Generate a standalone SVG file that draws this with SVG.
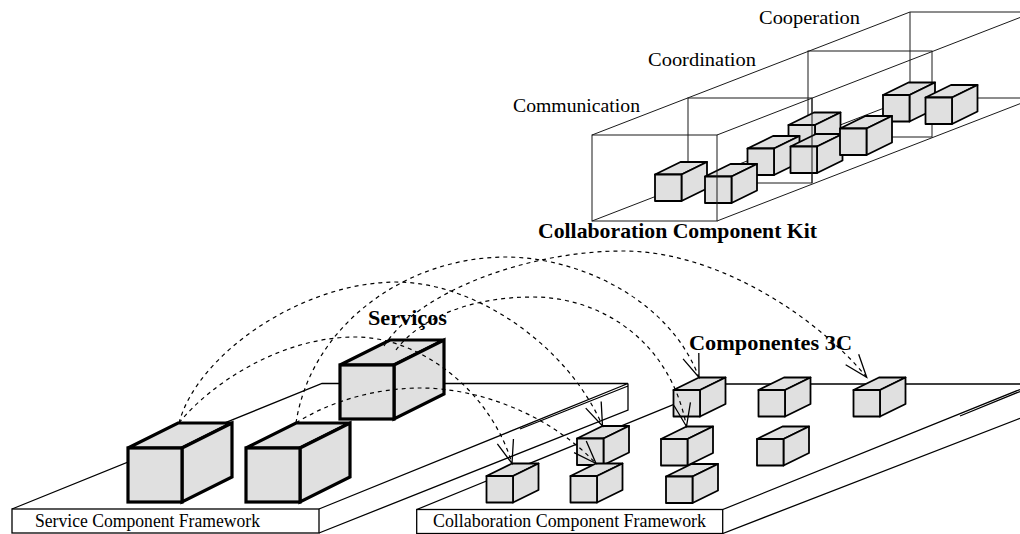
<svg xmlns="http://www.w3.org/2000/svg" xmlns:xlink="http://www.w3.org/1999/xlink" width="1020" height="534" viewBox="0 0 1020 534">
  <style>
    .wire{fill:none;stroke:#1a1a1a;stroke-width:1}
    .slab{fill:none;stroke:#000;stroke-width:1.3}
    .plate{fill:#fff;stroke:#000;stroke-width:1.3}
    .lbl{font-family:"Liberation Serif","Times New Roman",serif;fill:#000}
    .bold{font-weight:bold;font-size:21px}
    .kit{font-size:19px}
    .fw{font-size:18px}
    .link{fill:none;stroke:#000;stroke-width:1.2;stroke-dasharray:4 4;marker-end:url(#arrow)}
  </style>
  <defs>
    <marker id="arrow" markerUnits="userSpaceOnUse" viewBox="-26 -12 30 24" markerWidth="30" markerHeight="24" refX="0" refY="0" orient="auto" overflow="visible">
      <path d="M-23,-8.4 L0,0 L-23,8.4" fill="none" stroke="#000" stroke-width="1.3" stroke-dasharray="none"/>
    </marker>
    <!-- small component cube, origin = top-left of front face -->
    <g id="cube-s" fill="#e0e0e0" stroke="#000" stroke-width="1.8" stroke-linejoin="round">
      <path d="M0,0 L25.5,-12.5 L52,-12.5 L26.5,0 Z"/>
      <path d="M26.5,0 L52,-12.5 L52,14 L26.5,26.5 Z"/>
      <rect width="26.5" height="26.5"/>
    </g>
    <!-- large service cube -->
    <g id="cube-b" fill="#e0e0e0" stroke="#000" stroke-width="3.2" stroke-linejoin="miter">
      <path d="M0,0 L50,-25 L104,-25 L54,0 Z"/>
      <path d="M54,0 L104,-25 L104,29 L54,54 Z"/>
      <rect width="54" height="54"/>
    </g>
  </defs>

  <rect width="1020" height="534" fill="#fff"/>

  <!-- Collaboration Component Kit: long prism split in three layers -->
  <g id="kit">
    <g id="kit-frame" class="wire">
      <path d="M592,135 L910,12 M717,135 L1020,17.5 M592,221 L910,98 M717,221 L1020,103.7"/>
      <rect x="688" y="98" width="124" height="85"/>
      <rect x="808" y="51" width="124" height="86"/>
      <path d="M1020,12 L910,12 L910,98 L1020,98"/>
    </g>
    <g id="kit-k7"><use xlink:href="#cube-s" x="883" y="95"/></g>
    <g id="kit-k8"><use xlink:href="#cube-s" x="925.5" y="97.5"/></g>
    <g id="kit-k4"><use xlink:href="#cube-s" x="788.5" y="125"/></g>
    <g id="kit-k3"><use xlink:href="#cube-s" x="747.5" y="148.5"/></g>
    <g id="kit-k5"><use xlink:href="#cube-s" x="790.5" y="146.5"/></g>
    <g id="kit-k6"><use xlink:href="#cube-s" x="840" y="128.5"/></g>
    <g id="kit-k1"><use xlink:href="#cube-s" x="655" y="174.5"/></g>
    <g id="kit-k2"><use xlink:href="#cube-s" x="705" y="176.5"/></g>
    <g id="kit-front" class="wire">
      <rect x="592" y="135" width="125" height="86"/>
      <path d="M812,98 L812,183"/>
    </g>
    <text class="lbl kit" x="759" y="24" textLength="101" lengthAdjust="spacingAndGlyphs">Cooperation</text>
    <text class="lbl kit" x="648" y="66" textLength="108" lengthAdjust="spacingAndGlyphs">Coordination</text>
    <text class="lbl kit" x="513" y="112" textLength="127" lengthAdjust="spacingAndGlyphs">Communication</text>
    <text class="lbl bold" x="538" y="238" textLength="279" lengthAdjust="spacingAndGlyphs">Collaboration Component Kit</text>
  </g>

  <!-- Service Component Framework platform -->
  <g id="service-framework">
    <path class="slab" d="M12,509 L322,383.5 L628,383.5 L319,509 M628,383.5 L628,410 L319,533 M628,386 L520,429"/>
    <rect class="plate" x="12" y="509" width="307" height="24"/>
    <text class="lbl fw" x="35" y="527" textLength="225" lengthAdjust="spacingAndGlyphs">Service Component Framework</text>
  </g>

  <!-- Collaboration Component Framework platform -->
  <g id="collab-framework">
    <path class="slab" d="M416.7,509.5 L724,384 L1020,384 M722.7,509.5 L1020,389.5 M722.7,533.5 L1020,418.3 M1020,391.5 L960,416"/>
    <rect class="plate" x="416.7" y="509.5" width="306" height="24"/>
    <text class="lbl fw" x="433" y="527" textLength="273" lengthAdjust="spacingAndGlyphs">Collaboration Component Framework</text>
  </g>

  <!-- service cubes -->
  <g id="service-3"><use xlink:href="#cube-b" x="340" y="365"/></g>
  <g id="service-1"><use xlink:href="#cube-b" x="128" y="448"/></g>
  <g id="service-2"><use xlink:href="#cube-b" x="246" y="448"/></g>
  <text class="lbl bold" x="368" y="325" textLength="79" lengthAdjust="spacingAndGlyphs">Serviços</text>

  <!-- 3C components -->
  <g id="comp-s4"><use xlink:href="#cube-s" x="673.5" y="390"/></g>
  <g id="comp-s5"><use xlink:href="#cube-s" x="758.5" y="390"/></g>
  <g id="comp-s6"><use xlink:href="#cube-s" x="853.5" y="390"/></g>
  <g id="comp-s3"><use xlink:href="#cube-s" x="577" y="438.5"/></g>
  <g id="comp-s7"><use xlink:href="#cube-s" x="661" y="439"/></g>
  <g id="comp-s8"><use xlink:href="#cube-s" x="757" y="439"/></g>
  <g id="comp-s1"><use xlink:href="#cube-s" x="486.5" y="476"/></g>
  <g id="comp-s2"><use xlink:href="#cube-s" x="570.5" y="476"/></g>
  <g id="comp-s9"><use xlink:href="#cube-s" x="666" y="476.5"/></g>
  <text class="lbl bold" x="689" y="350" textLength="163" lengthAdjust="spacingAndGlyphs">Componentes 3C</text>

  <!-- service-to-component mappings -->
  <g id="connectors">
    <path class="link" d="M179,423 C209,385 280,337 355,337 C420,337 490,390 512,463.5"/>
    <path class="link" d="M179,423 C197,355 300,283 395,282 C480,282 570,350 602.5,426"/>
    <path class="link" d="M296,423 C340,395 390,388 420,388 C480,388 550,415 596,463.5"/>
    <path class="link" d="M296,423 C310,330 400,258 505,257 C580,257 670,300 699,377.5"/>
    <path class="link" d="M396,350 C420,318 470,297 533,297 C600,297 670,340 686.5,426.5"/>
    <path class="link" d="M384,346 C420,290 530,251 623,251 C720,251 820,320 866.7,377.3"/>
  </g>
</svg>
